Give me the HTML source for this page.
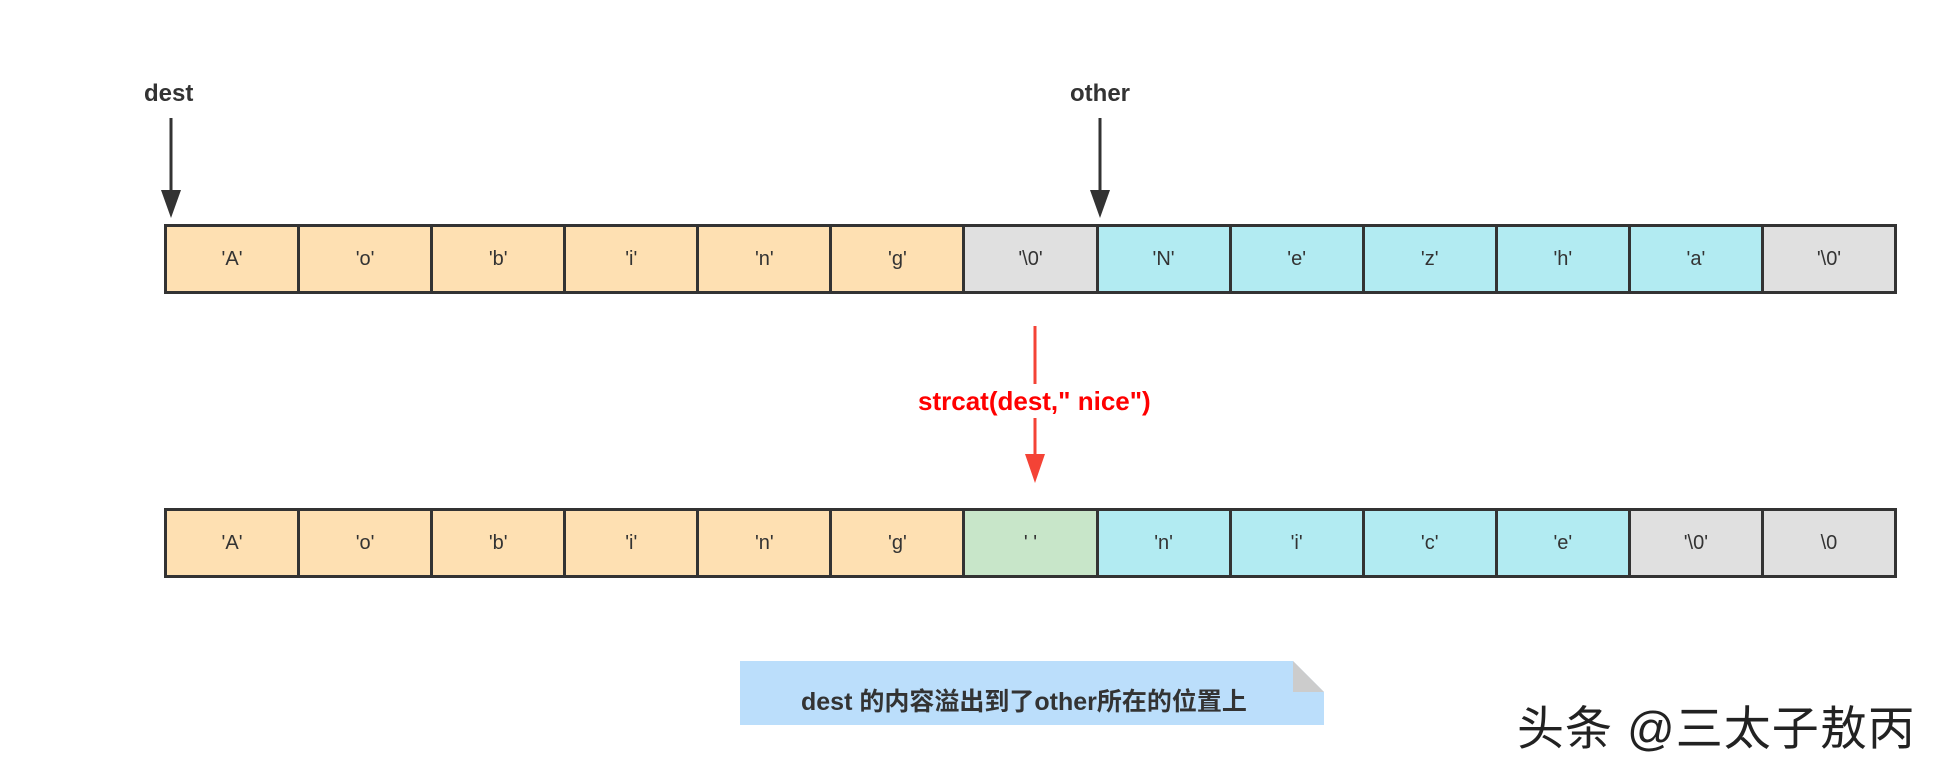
<!DOCTYPE html>
<html><head><meta charset="utf-8"><style>
body{margin:0;width:1948px;height:776px;background:#fff;overflow:hidden;position:relative;font-family:"Liberation Sans","Noto Sans CJK SC",sans-serif;}
.row{position:absolute;left:164px;width:1733px;height:70px;display:flex;border:3px solid #333;box-sizing:border-box;}
.c{flex:1;display:flex;align-items:center;justify-content:center;font-size:20px;color:#333;border-right:3px solid #333;}
.c:last-child{border-right:none}
.o{background:#fee0b2}.g{background:#e0e0e0}.b{background:#b2ebf2}.gr{background:#c8e6c9}
.lbl{position:absolute;font-weight:bold;font-size:24px;color:#333;}
</style></head><body>
<div class="lbl" style="left:144px;top:80px">dest</div>
<div class="lbl" style="left:1070px;top:80px">other</div>
<svg width="1948" height="776" style="position:absolute;left:0;top:0">
<line x1="171" y1="118" x2="171" y2="192" stroke="#333" stroke-width="3"/>
<polygon points="161,190 181,190 171,218" fill="#333"/>
<line x1="1100" y1="118" x2="1100" y2="192" stroke="#333" stroke-width="3"/>
<polygon points="1090,190 1110,190 1100,218" fill="#333"/>
<line x1="1035" y1="326" x2="1035" y2="384" stroke="#f44336" stroke-width="3"/>
<line x1="1035" y1="418" x2="1035" y2="456" stroke="#f44336" stroke-width="3"/>
<polygon points="1025,454 1045,454 1035,483" fill="#f44336"/>
<polygon points="740,661 1293,661 1324,692 1324,725 740,725" fill="#bbdefb"/>
<polygon points="1293,661 1324,692 1293,692" fill="#cccccc"/>
</svg>
<div style="position:absolute;left:918px;top:386px;font-weight:bold;font-size:26px;color:#f00;">strcat(dest," nice")</div>
<div class="row" style="top:224px">
<div class="c o">'A'</div><div class="c o">'o'</div><div class="c o">'b'</div><div class="c o">'i'</div><div class="c o">'n'</div><div class="c o">'g'</div><div class="c g">'\0'</div><div class="c b">'N'</div><div class="c b">'e'</div><div class="c b">'z'</div><div class="c b">'h'</div><div class="c b">'a'</div><div class="c g">'\0'</div>
</div>
<div class="row" style="top:508px">
<div class="c o">'A'</div><div class="c o">'o'</div><div class="c o">'b'</div><div class="c o">'i'</div><div class="c o">'n'</div><div class="c o">'g'</div><div class="c gr">' '</div><div class="c b">'n'</div><div class="c b">'i'</div><div class="c b">'c'</div><div class="c b">'e'</div><div class="c g">'\0'</div><div class="c g">\0</div>
</div>
<div style="position:absolute;left:801px;top:682px;font-weight:bold;font-size:25px;color:#333;">dest 的内容溢出到了other所在的位置上</div>
<div style="position:absolute;left:1517px;top:690px;font-size:47px;color:#222;letter-spacing:1px;">头条 @三太子敖丙</div>
</body></html>
